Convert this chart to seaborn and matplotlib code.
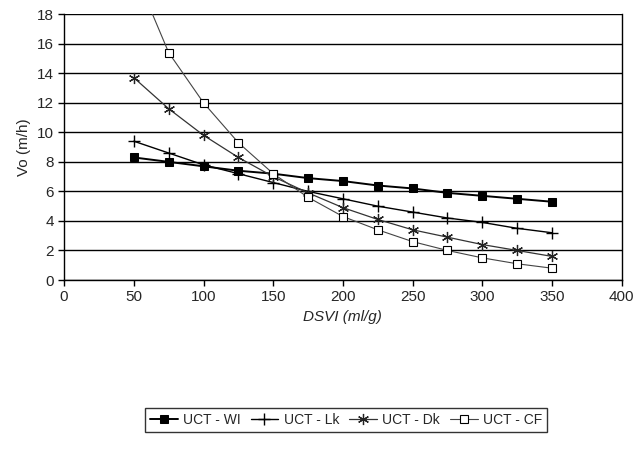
import pandas as pd
import numpy as np
import matplotlib
matplotlib.use("Agg")
import matplotlib.pyplot as plt
import seaborn as sns

dsvi = [50, 75, 100, 125, 150, 175, 200, 225, 250, 275, 300, 325, 350]
uct_wi = [8.3, 8.0, 7.7, 7.4, 7.2, 6.9, 6.7, 6.4, 6.2, 5.9, 5.7, 5.5, 5.3]
uct_lk = [9.4, 8.6, 7.8, 7.2, 6.6, 6.0, 5.5, 5.0, 4.6, 4.2, 3.9, 3.5, 3.2]
uct_dk = [13.7, 11.6, 9.8, 8.3, 7.0, 5.9, 4.9, 4.1, 3.4, 2.9, 2.4, 2.0, 1.6]
uct_cf = [21.0, 15.4, 12.0, 9.3, 7.2, 5.6, 4.3, 3.4, 2.6, 2.0, 1.5, 1.1, 0.8]
series_names = ['UCT - WI', 'UCT - Lk', 'UCT - Dk', 'UCT - CF']

sns.set_style("white")
plt.rcParams['font.family'] = ['Liberation Sans', 'DejaVu Sans']

fig = plt.figure(figsize=(6.41, 4.73), dpi=100)
ax = fig.add_axes([0.1, 0.408, 0.87, 0.562])

# seaborn paints marker edges white by default, so set them explicitly
styles = [
    dict(marker='s', markersize=6, markerfacecolor='black', markeredgecolor='black', color='black', lw=1.4),
    dict(marker='+', markersize=8, markeredgewidth=1.0, markeredgecolor='black', color='black', lw=1.0),
    dict(marker=(6, 2, 0), markersize=8, markeredgewidth=0.9, markeredgecolor='#222222',
         color='#333333', lw=0.9),
    dict(marker='s', markersize=6, markerfacecolor='white', markeredgecolor='black', markeredgewidth=0.8,
         color='#444444', lw=0.8),
]
for name, vals, st in zip(series_names, [uct_wi, uct_lk, uct_dk, uct_cf], styles):
    df = pd.DataFrame({'DSVI': dsvi, 'Vo': vals})
    sns.lineplot(data=df, x='DSVI', y='Vo', ax=ax, label=name, **st)

ax.set_xlim(0, 400)
ax.set_ylim(0, 18)
ax.set_xticks(range(0, 401, 50))
ax.set_yticks(range(0, 19, 2))
ax.grid(axis='y', color='black', lw=1.0)
ax.set_axisbelow(True)
for s in ['left', 'bottom', 'right']:
    ax.spines[s].set_color('black')
    ax.spines[s].set_linewidth(1.0)
ax.spines['top'].set_visible(False)
ax.tick_params(axis='both', direction='out', length=4, width=1, labelsize=11, color='black', left=True, bottom=True)
ax.set_xlabel('DSVI (ml/g)', fontsize=11, fontstyle='italic')
ax.set_ylabel('Vo (m/h)', fontsize=11)

handles, labels = ax.get_legend_handles_labels()
ax.legend_.remove()
leg = fig.legend(handles, labels, loc='center', bbox_to_anchor=(0.54, 0.112), ncol=4,
                 frameon=True, fancybox=False, edgecolor='black', fontsize=10,
                 handlelength=2.0, handletextpad=0.4, columnspacing=0.7, borderpad=0.35)
leg.get_frame().set_linewidth(1.0)

fig.savefig('out.png', dpi=100)
